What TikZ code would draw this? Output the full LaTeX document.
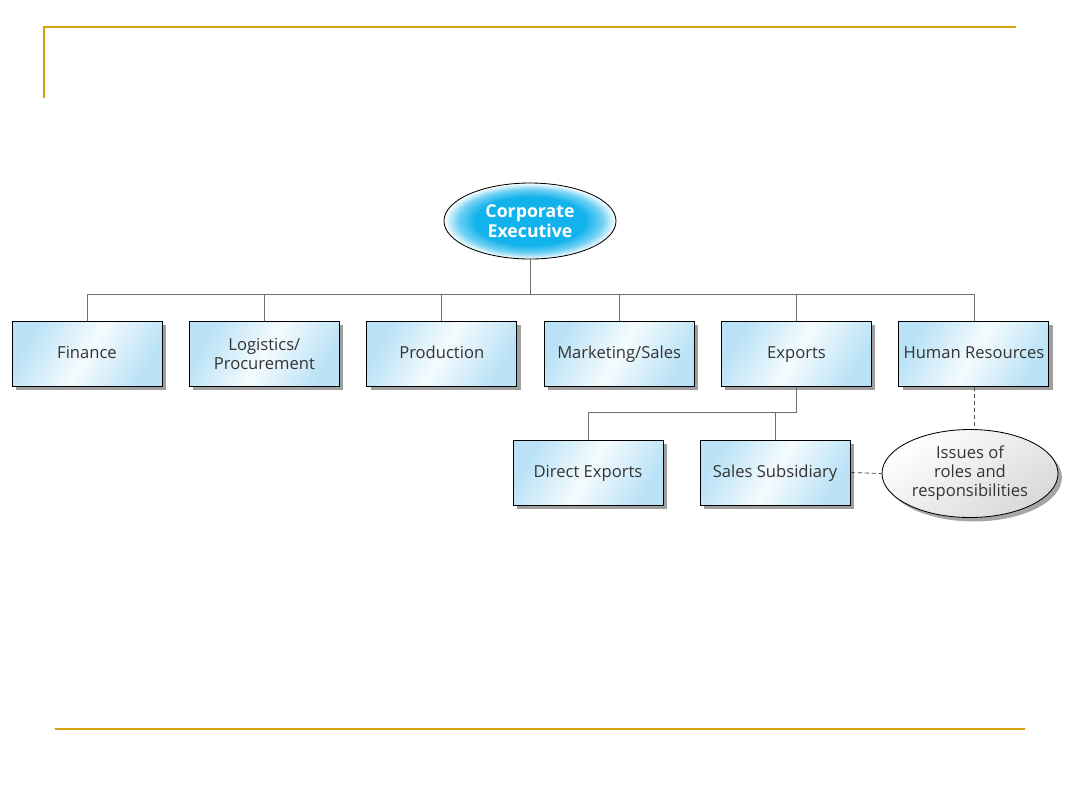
\documentclass[tikz,border=0pt]{standalone}
\usepackage{fontspec}
\setmainfont{Open Sans}
\usepackage{tikz}
\usetikzlibrary{positioning, shapes.geometric, shadows, calc}
\definecolor{gold}{HTML}{D4A10F}
\definecolor{ceblue}{HTML}{12B2EC}
\definecolor{boxblue}{HTML}{B9E2F6}
\definecolor{linkgray}{HTML}{707070}
\pgfdeclareradialshading{ceshade}{\pgfpoint{0bp}{0bp}}{%
  color(0bp)=(ceblue); color(16bp)=(ceblue); color(21bp)=(ceblue!60!white);
  color(25bp)=(white); color(50bp)=(white)}

\begin{document}
\begin{tikzpicture}[
    font=\fontsize{11.8}{13.5}\selectfont,
    unidade/.style={draw, line width=0.7pt, rectangle, minimum width=3.75cm, minimum height=1.625cm,
                    inner sep=2pt, align=center, text=black!80,
                    text height=1.75ex, text depth=.45ex,
                    left color=boxblue, right color=boxblue, middle color=white!85!boxblue,
                    shading angle=60,
                    drop shadow={shadow xshift=2.8pt, shadow yshift=-2.8pt, fill=gray!75, opacity=1}},
    questao/.style={draw, line width=0.6pt, ellipse, minimum width=4.4cm, minimum height=2.2cm,
                    inner sep=0pt, align=center, text=black!80,
                    top color=white, bottom color=gray!30, shading angle=35,
                    drop shadow={shadow xshift=2.8pt, shadow yshift=-2.8pt, fill=gray!70, opacity=1}},
    ligacao/.style={linkgray, line width=0.6pt},
    tracejado/.style={black!70, line width=0.6pt, dash pattern=on 3pt off 2pt}
  ]

    \useasboundingbox (0,0) rectangle (27,-20.25);

    % --- Moldura ---
    \draw[gold, line width=1.4pt] (25.4,-0.675) -- (1.1,-0.675) -- (1.1,-2.45);
    \draw[gold, line width=1.4pt] (1.375,-18.225) -- (25.625,-18.225);

    % --- Topo ---
    \node[draw, line width=0.6pt, ellipse, minimum width=4.3cm, minimum height=1.9cm, inner sep=0pt,
          shading=ceshade, align=center, text=white, font=\fontsize{12.6}{14.5}\selectfont\bfseries]
      (ce) at (13.25,-5.525) {Corporate\\Executive};

    % --- Departamentos ---
    \node[unidade] (finance) at (2.175,-8.8375) {Finance};
    \node[unidade, right=0.66cm of finance, text height={}, text depth={}] (logistics) {Logistics/\\Procurement};
    \node[unidade, right=0.66cm of logistics] (production) {Production};
    \node[unidade, right=0.66cm of production] (marketing) {Marketing/Sales};
    \node[unidade, right=0.66cm of marketing] (exports) {Exports};
    \node[unidade, right=0.66cm of exports] (hr) {Human Resources};

    % --- Exportacoes ---
    \node[unidade] (direct) at (14.7,-11.8125) {Direct Exports};
    \node[unidade] (sales) at (19.375,-11.8125) {Sales Subsidiary};
    \node[questao] (issues) at (24.25,-11.8375) {Issues of\\roles and\\responsibilities};

    % --- Ligacoes ---
    \coordinate (bus) at (13.25,-7.35);
    \draw[ligacao] (ce.south) -- (bus);
    \foreach \u in {finance, logistics, production, marketing, exports, hr}
      \draw[ligacao] (\u.north) |- (bus);

    \coordinate (subbus) at ($(exports.south)+(0,-0.65)$);
    \draw[ligacao] (exports.south) -- (subbus);
    \draw[ligacao] (direct.north) |- (subbus);
    \draw[ligacao] (sales.north) |- (subbus);

    \draw[tracejado] (sales.east) -- (issues.west);
    \draw[tracejado] (hr.south) -- (hr.south |- issues.north);

\end{tikzpicture}
\end{document}
